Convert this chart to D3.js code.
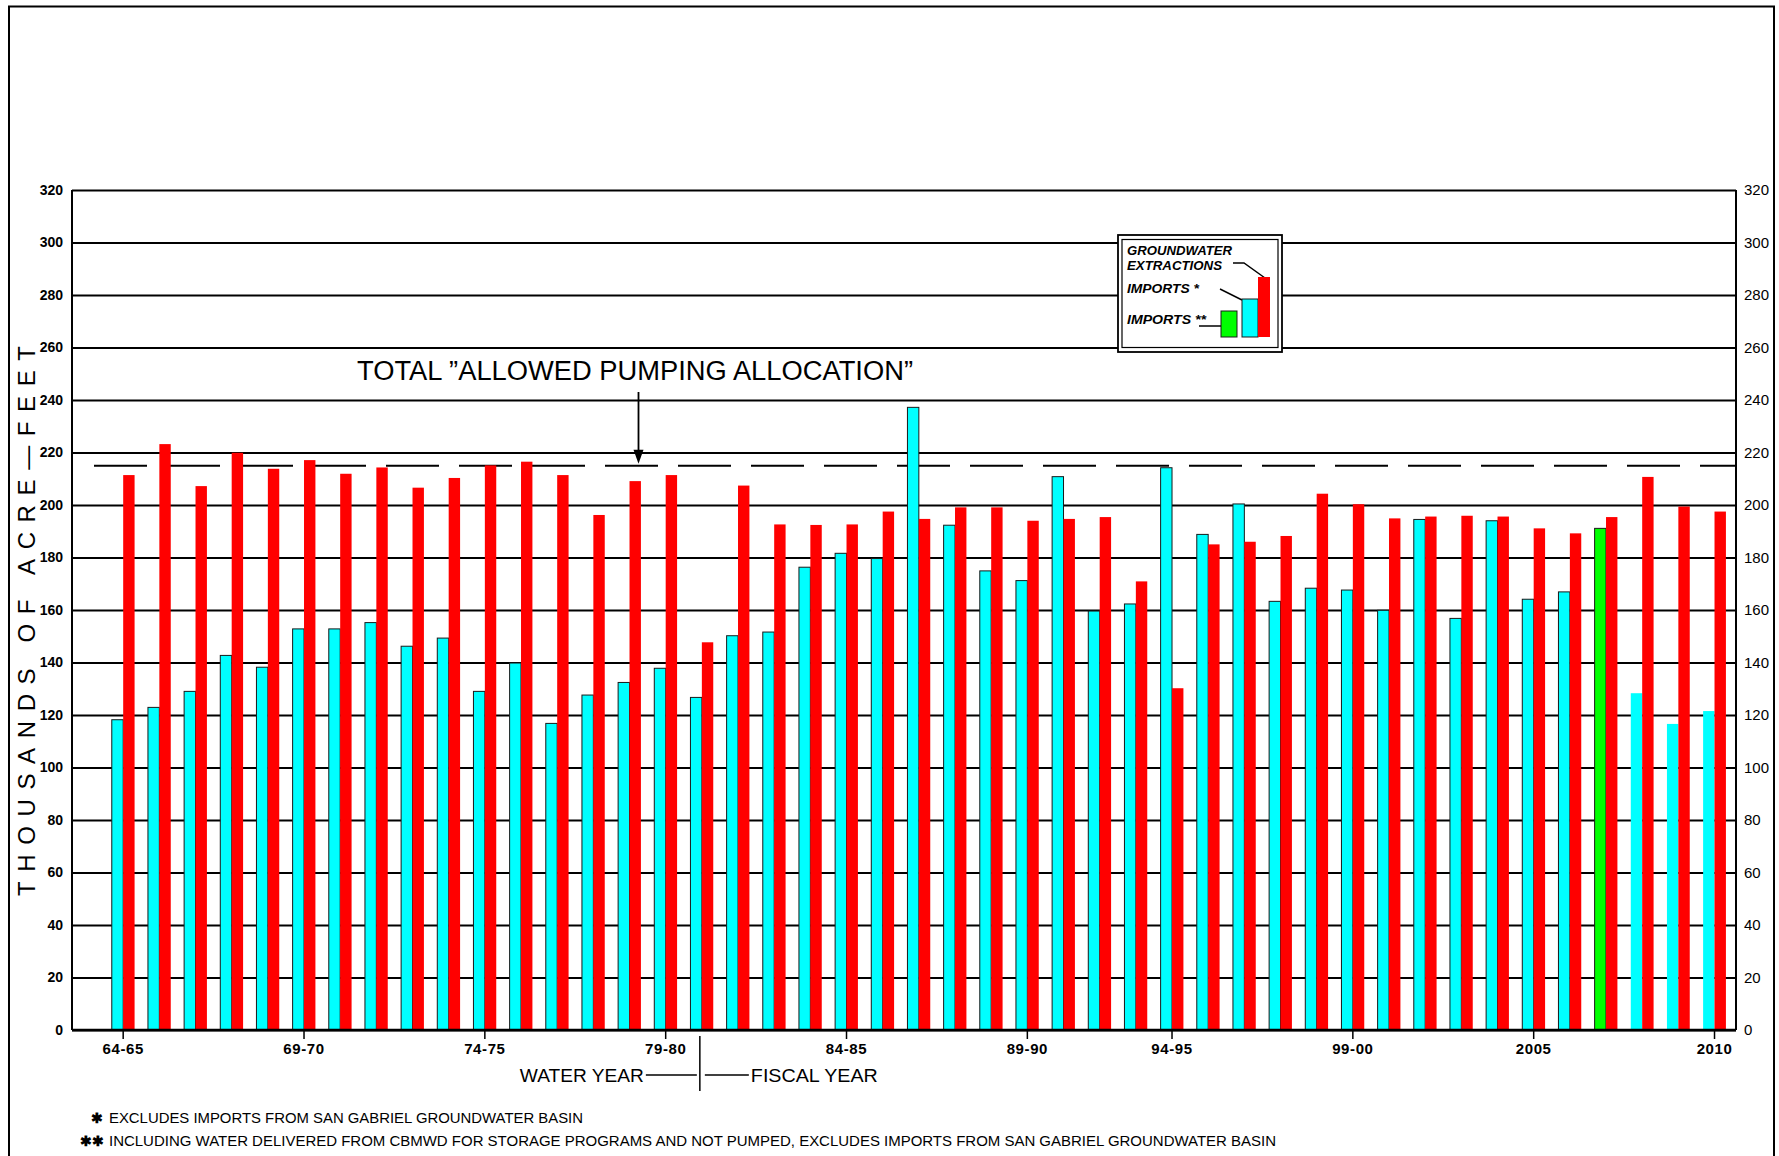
<!DOCTYPE html>
<html>
<head>
<meta charset="utf-8">
<script src="https://cdn.jsdelivr.net/npm/d3@7"></script>
<style>
  html, body { margin: 0; padding: 0; background: #fff; }
  svg { display: block; }
  text { font-family: "Liberation Sans", Arial, sans-serif; fill: #000; }
</style>
</head>
<body>
<svg id="chart" width="1779" height="1156"></svg>
<script>
// ---------------- DATA ----------------
const categories = [
  "64-65","65-66","66-67","67-68","68-69","69-70","70-71","71-72","72-73","73-74",
  "74-75","75-76","76-77","77-78","78-79","79-80","80-81","81-82","82-83","83-84",
  "84-85","85-86","86-87","87-88","88-89","89-90","90-91","91-92","92-93","94-95",
  "95-96","96-97","97-98","98-99","99-00","00-01","01-02","02-03","03-04","04-05",
  "05-06","06-07","07-08","08-09","09-10"
];
// Imports * (cyan), thousands of acre-feet
const importsStar = [
  118.2,122.9,129.0,142.7,138.2,152.8,152.8,155.2,146.2,149.3,
  129.0,139.8,116.8,127.6,132.4,137.8,126.7,150.2,151.6,176.3,
  181.6,179.6,237.2,192.3,174.9,171.2,210.8,159.6,162.3,214.2,
  188.8,200.4,163.3,168.3,167.6,159.9,194.5,156.8,194.0,164.1,
  166.9,null,128.3,116.6,121.5
];
// Imports ** (green)
const importsStarStar = [
  null,null,null,null,null,null,null,null,null,null,
  null,null,null,null,null,null,null,null,null,null,
  null,null,null,null,null,null,null,null,null,null,
  null,null,null,null,null,null,null,null,null,null,
  null,191.1,null,null,null
];
// Groundwater extractions (red)
const extractions = [
  211.4,223.2,207.2,219.9,213.8,217.1,211.9,214.3,206.6,210.3,
  215.1,216.5,211.4,196.2,209.1,211.4,147.7,207.4,192.6,192.4,
  192.6,197.5,194.7,199.1,199.1,194.0,194.7,195.4,170.9,130.2,
  185.0,186.0,188.2,204.3,200.3,194.9,195.6,195.9,195.6,191.1,
  189.2,195.4,210.7,199.4,197.5
];
const allowedPumping = 215;
const yTicks = [0,20,40,60,80,100,120,140,160,180,200,220,240,260,280,300,320];
const tickCategories = ["64-65","69-70","74-75","79-80","84-85","89-90","94-95","99-00","04-05","09-10"];
const tickLabels     = ["64-65","69-70","74-75","79-80","84-85","89-90","94-95","99-00","2005","2010"];
const fiscalStart = "80-81";
const noOutline = ["07-08","08-09","09-10"];

// ---------------- LAYOUT ----------------
const svg = d3.select("#chart");
const L = 72, R = 1736, T = 190, B = 1030;

const x = d3.scaleBand().domain(categories).range([105.1, 1732.6]).paddingInner(0).paddingOuter(0);
const xi = d3.scaleBand().domain(["imp","gw"]).range([0, x.bandwidth()]).paddingInner(0).paddingOuter(0.586);
const y = d3.scaleLinear().domain([0, 320]).range([B, T]);

// outer border
svg.append("rect").attr("x", 9).attr("y", 6.5).attr("width", 1765).attr("height", 1170)
  .attr("fill", "none").attr("stroke", "#000").attr("stroke-width", 2);

// grid
const grid = svg.append("g").attr("transform", `translate(${L},0)`)
  .call(d3.axisLeft(y).tickValues(yTicks).tickSize(-(R - L)).tickFormat(""));
grid.select(".domain").remove();
grid.selectAll(".tick line").attr("stroke", "#000").attr("stroke-width", 2.2);

// frame verticals
svg.append("line").attr("x1", L).attr("x2", L).attr("y1", T).attr("y2", B).attr("stroke", "#000").attr("stroke-width", 2);
svg.append("line").attr("x1", R).attr("x2", R).attr("y1", T).attr("y2", B).attr("stroke", "#000").attr("stroke-width", 2);

// dashed allowed pumping line
svg.append("line").attr("x1", 94).attr("x2", R).attr("y1", y(allowedPumping)).attr("y2", y(allowedPumping))
  .attr("stroke", "#000").attr("stroke-width", 2).attr("stroke-dasharray", "53,20");

// bars
const bars = svg.append("g");
const cyanData = categories.map((c, i) => ({c, v: importsStar[i]})).filter(d => d.v != null);
const greenData = categories.map((c, i) => ({c, v: importsStarStar[i]})).filter(d => d.v != null);
const redData = categories.map((c, i) => ({c, v: extractions[i]})).filter(d => d.v != null);

bars.selectAll("rect.cyan").data(cyanData).join("rect").attr("class", "cyan")
  .attr("x", d => x(d.c) + xi("imp")).attr("width", xi.bandwidth())
  .attr("y", d => y(d.v)).attr("height", d => y(0) - y(d.v))
  .attr("fill", "#00ffff")
  .attr("stroke", d => noOutline.includes(d.c) ? "none" : "#1a1a1a")
  .attr("stroke-width", 1);
bars.selectAll("rect.green").data(greenData).join("rect").attr("class", "green")
  .attr("x", d => x(d.c) + xi("imp")).attr("width", xi.bandwidth())
  .attr("y", d => y(d.v)).attr("height", d => y(0) - y(d.v))
  .attr("fill", "#00ff00").attr("stroke", "#1a1a1a").attr("stroke-width", 1);
bars.selectAll("rect.red").data(redData).join("rect").attr("class", "red")
  .attr("x", d => x(d.c) + xi("gw")).attr("width", xi.bandwidth())
  .attr("y", d => y(d.v)).attr("height", d => y(0) - y(d.v))
  .attr("fill", "#ff0000");

// baseline
svg.append("line").attr("x1", L).attr("x2", R).attr("y1", B).attr("y2", B).attr("stroke", "#000").attr("stroke-width", 2.6);

// left axis labels
const yl = svg.append("g").attr("transform", `translate(${L},0)`)
  .call(d3.axisLeft(y).tickValues(yTicks).tickSize(0).tickPadding(9));
yl.select(".domain").remove();
yl.selectAll("text").attr("font-size", 14).attr("font-weight", "bold")
  .attr("font-family", "Liberation Sans, Arial, sans-serif");

// right axis labels
const yr = svg.append("g").attr("transform", `translate(${R},0)`)
  .call(d3.axisRight(y).tickValues(yTicks).tickSize(0).tickPadding(8));
yr.select(".domain").remove();
yr.selectAll("text").attr("font-size", 15)
  .attr("font-family", "Liberation Sans, Arial, sans-serif");

// x axis
const xa = svg.append("g").attr("transform", `translate(0,${B})`)
  .call(d3.axisBottom(x).tickValues(tickCategories)
    .tickFormat(c => tickLabels[tickCategories.indexOf(c)])
    .tickSize(9).tickPadding(4));
xa.select(".domain").remove();
xa.selectAll(".tick line").attr("stroke", "#000").attr("stroke-width", 1.5);
xa.selectAll("text").attr("font-size", 15).attr("font-weight", "bold").attr("letter-spacing", "0.6px")
  .attr("font-family", "Liberation Sans, Arial, sans-serif");

// Water year / fiscal year divider
const divX = x(fiscalStart) + x.bandwidth() / 2 - 2;
svg.append("line").attr("x1", divX).attr("x2", divX).attr("y1", 1036).attr("y2", 1091)
  .attr("stroke", "#000").attr("stroke-width", 1.5);
svg.append("line").attr("x1", divX - 54).attr("x2", divX - 3).attr("y1", 1075).attr("y2", 1075)
  .attr("stroke", "#000").attr("stroke-width", 1.5);
svg.append("line").attr("x1", divX + 5).attr("x2", divX + 49).attr("y1", 1075).attr("y2", 1075)
  .attr("stroke", "#000").attr("stroke-width", 1.5);
svg.append("text").attr("x", divX - 56).attr("y", 1082).attr("text-anchor", "end")
  .attr("font-size", 19).attr("textLength", 124).attr("lengthAdjust", "spacingAndGlyphs").text("WATER YEAR");
svg.append("text").attr("x", divX + 51).attr("y", 1082)
  .attr("font-size", 19).attr("textLength", 127).attr("lengthAdjust", "spacingAndGlyphs").text("FISCAL YEAR");

// Y title
svg.append("text").attr("transform", "translate(35,621) rotate(-90)")
  .attr("text-anchor", "middle").attr("font-size", 24)
  .attr("textLength", 550).attr("lengthAdjust", "spacing")
  .text("THOUSANDS  OF  ACRE—FEET");

// Annotation
svg.append("text").attr("x", 357).attr("y", 380).attr("font-size", 27)
  .attr("textLength", 556).attr("lengthAdjust", "spacingAndGlyphs")
  .text("TOTAL ”ALLOWED PUMPING ALLOCATION”");
svg.append("line").attr("x1", 638.5).attr("x2", 638.5).attr("y1", 392).attr("y2", y(allowedPumping) - 14)
  .attr("stroke", "#000").attr("stroke-width", 1.8);
svg.append("path")
  .attr("d", `M633.5,${y(allowedPumping) - 16} L643.5,${y(allowedPumping) - 16} L638.5,${y(allowedPumping) - 2} Z`)
  .attr("fill", "#000");

// Legend
const lg = svg.append("g");
lg.append("rect").attr("x", 1118).attr("y", 235).attr("width", 164).attr("height", 117)
  .attr("fill", "#fff").attr("stroke", "#000").attr("stroke-width", 1.8);
lg.append("rect").attr("x", 1122).attr("y", 239.5).attr("width", 156).attr("height", 108)
  .attr("fill", "#fff").attr("stroke", "#000").attr("stroke-width", 1.2);
const legText = [
  {t: "GROUNDWATER", yy: 255, w: 105},
  {t: "EXTRACTIONS", yy: 270, w: 95},
  {t: "IMPORTS  *", yy: 293, w: 72},
  {t: "IMPORTS  **", yy: 324, w: 79}
];
lg.selectAll("text").data(legText).join("text")
  .attr("x", 1127).attr("y", d => d.yy).attr("font-size", 13)
  .attr("font-weight", "bold").attr("font-style", "italic")
  .attr("textLength", d => d.w).attr("lengthAdjust", "spacingAndGlyphs")
  .text(d => d.t);
lg.append("polyline").attr("points", "1233,263 1244,263 1265,278").attr("fill", "none").attr("stroke", "#000").attr("stroke-width", 1.5);
lg.append("line").attr("x1", 1220).attr("y1", 289).attr("x2", 1242).attr("y2", 300).attr("stroke", "#000").attr("stroke-width", 1.5);
lg.append("line").attr("x1", 1199).attr("y1", 326).attr("x2", 1221).attr("y2", 326).attr("stroke", "#000").attr("stroke-width", 1.5);
lg.append("rect").attr("x", 1221).attr("y", 311).attr("width", 16).attr("height", 26).attr("fill", "#00ff00").attr("stroke", "#1a1a1a").attr("stroke-width", 1);
lg.append("rect").attr("x", 1242).attr("y", 299).attr("width", 16).attr("height", 38).attr("fill", "#00ffff").attr("stroke", "#1a1a1a").attr("stroke-width", 1);
lg.append("rect").attr("x", 1258).attr("y", 277).attr("width", 12).attr("height", 60).attr("fill", "#ff0000");

// Footnotes
const fn = svg.append("g").attr("font-family", "Liberation Sans Narrow, DejaVu Sans Condensed, Arial, sans-serif");
fn.append("text").attr("x", 91).attr("y", 1123).attr("font-size", 14).attr("font-weight", "bold").text("✱");
fn.append("text").attr("x", 109).attr("y", 1123).attr("font-size", 14)
  .attr("textLength", 474).attr("lengthAdjust", "spacingAndGlyphs")
  .text("EXCLUDES IMPORTS FROM SAN GABRIEL GROUNDWATER BASIN");
fn.append("text").attr("x", 80).attr("y", 1146).attr("font-size", 14).attr("font-weight", "bold").text("✱✱");
fn.append("text").attr("x", 109).attr("y", 1146).attr("font-size", 14)
  .attr("textLength", 1167).attr("lengthAdjust", "spacingAndGlyphs")
  .text("INCLUDING WATER DELIVERED FROM CBMWD FOR STORAGE PROGRAMS AND NOT PUMPED, EXCLUDES IMPORTS FROM SAN GABRIEL GROUNDWATER BASIN");
</script>
</body>
</html>
